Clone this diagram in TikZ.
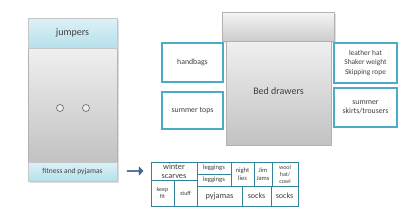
\documentclass[tikz,border=0pt]{standalone}
\usepackage{fontspec}
\setmainfont{Carlito}
\usetikzlibrary{shapes.arrows}
\definecolor{teal1}{HTML}{4BACC6}
\definecolor{gridc}{HTML}{31849B}
\definecolor{txt}{HTML}{404040}
\definecolor{cyanA}{HTML}{DDF1F7}
\definecolor{cyanB}{HTML}{B6E0EB}
\definecolor{arrowc}{HTML}{3E6DAE}
\tikzset{
  cell/.style={draw=gridc, line width=0.8pt, fill=white, inner sep=0pt, text=txt, align=center, font=\fontsize{6.5}{7}\selectfont},
  sidebox/.style={draw=teal1, line width=1.1pt, fill=white, inner sep=0pt, text=txt, align=center, font=\fontsize{7.8}{9}\selectfont},
  band/.style={draw=gray!45, line width=0.5pt, top color=cyanA, bottom color=cyanB, inner sep=0pt, text=txt},
  graybody/.style={draw=gray!60, line width=0.5pt, top color=gray!12, bottom color=gray!48, inner sep=0pt, text=txt},
  knob/.style={circle, draw=gray!80!black, line width=0.6pt, fill=gray!15, minimum size=7pt, inner sep=0pt},
}
\begin{document}
\begin{tikzpicture}[x=1pt,y=-1pt]
\useasboundingbox[fill=white] (0,0) rectangle (400,212);
% shadows
\fill[gray!25] (30,20) rectangle (119,183);
\fill[gray!25] (224,14) rectangle (336,43);
% left cabinet
\node[graybody, minimum width=89pt, minimum height=114pt] (body) at (72.5,105) {};
\node[band, minimum width=89pt, minimum height=30pt, font=\fontsize{10}{11}\selectfont] (jumpers) at (72.5,33) {jumpers};
\node[band, minimum width=89pt, minimum height=19pt, font=\fontsize{7.5}{8}\selectfont] (fitness) at (72.5,171.5) {fitness and pyjamas};
\node[knob] (k1) at (60,108) {};
\node[knob] (k2) at (86,108) {};
% arrow
\node[single arrow, draw=arrowc!70!black, fill=arrowc, line width=0.4pt, minimum height=16pt, minimum width=8pt, single arrow head extend=2pt, inner sep=0pt, single arrow tip angle=90] (arr) at (135,171) {};
% bed drawers
\node[graybody, minimum width=105pt, minimum height=104pt] (bed) at (278.5,93) {};
\node[text=txt, font=\fontsize{10}{11}\selectfont] (bedlabel) at (278.5,91) {Bed drawers};
\node[graybody, minimum width=112pt, minimum height=29pt, top color=gray!8, bottom color=gray!40] (bedtop) at (278,26.5) {};
% side boxes
\node[sidebox, minimum width=61pt, minimum height=39pt] (handbags) at (192.5,62.5) {handbags};
\node[sidebox, minimum width=61pt, minimum height=37pt] (tops) at (192.5,110.5) {summer tops};
\node[sidebox, minimum width=63pt, minimum height=40pt, font=\fontsize{7.4}{9.2}\selectfont] (hat) at (365.5,63) {leather hat\\Shaker weight\\Skipping rope};
\node[sidebox, minimum width=63pt, minimum height=39pt] (skirts) at (365.5,107.5) {summer\\skirts/trousers};
% grid
\node[cell, minimum width=46pt, minimum height=18pt, font=\fontsize{8.3}{8.6}\selectfont] (winter) at (174,171) {winter\\scarves};
\node[cell, minimum width=23pt, minimum height=26pt, font=\fontsize{6}{7}\selectfont] (keep) at (162.5,193) {keep\\fit};
\node[cell, minimum width=23pt, minimum height=26pt, font=\fontsize{6}{7}\selectfont] (stuff) at (185.5,193) {stuff};
\node[cell, minimum width=34pt, minimum height=12pt, font=\fontsize{6.6}{7}\selectfont] (leg1) at (214,168) {leggings};
\node[cell, minimum width=34pt, minimum height=12pt, font=\fontsize{6.6}{7}\selectfont] (leg2) at (214,180) {leggings};
\node[cell, minimum width=23pt, minimum height=24pt, font=\fontsize{6.6}{8}\selectfont] (night) at (242.5,174) {night\\lies};
\node[cell, minimum width=18pt, minimum height=24pt, font=\fontsize{6.5}{8}\selectfont] (jim) at (263,174) {Jim\\Jams};
\node[cell, minimum width=26pt, minimum height=24pt, font=\fontsize{6}{7}\selectfont] (wool) at (285,174) {wool\\hat/\\cowl};
\node[cell, minimum width=45pt, minimum height=20pt, font=\fontsize{8.3}{9}\selectfont] (pyj) at (219.5,196) {pyjamas};
\node[cell, minimum width=29pt, minimum height=20pt, font=\fontsize{8}{9}\selectfont] (socks1) at (256.5,196) {socks};
\node[cell, minimum width=27pt, minimum height=20pt, font=\fontsize{8}{9}\selectfont] (socks2) at (284.5,196) {socks};
\end{tikzpicture}
\end{document}
